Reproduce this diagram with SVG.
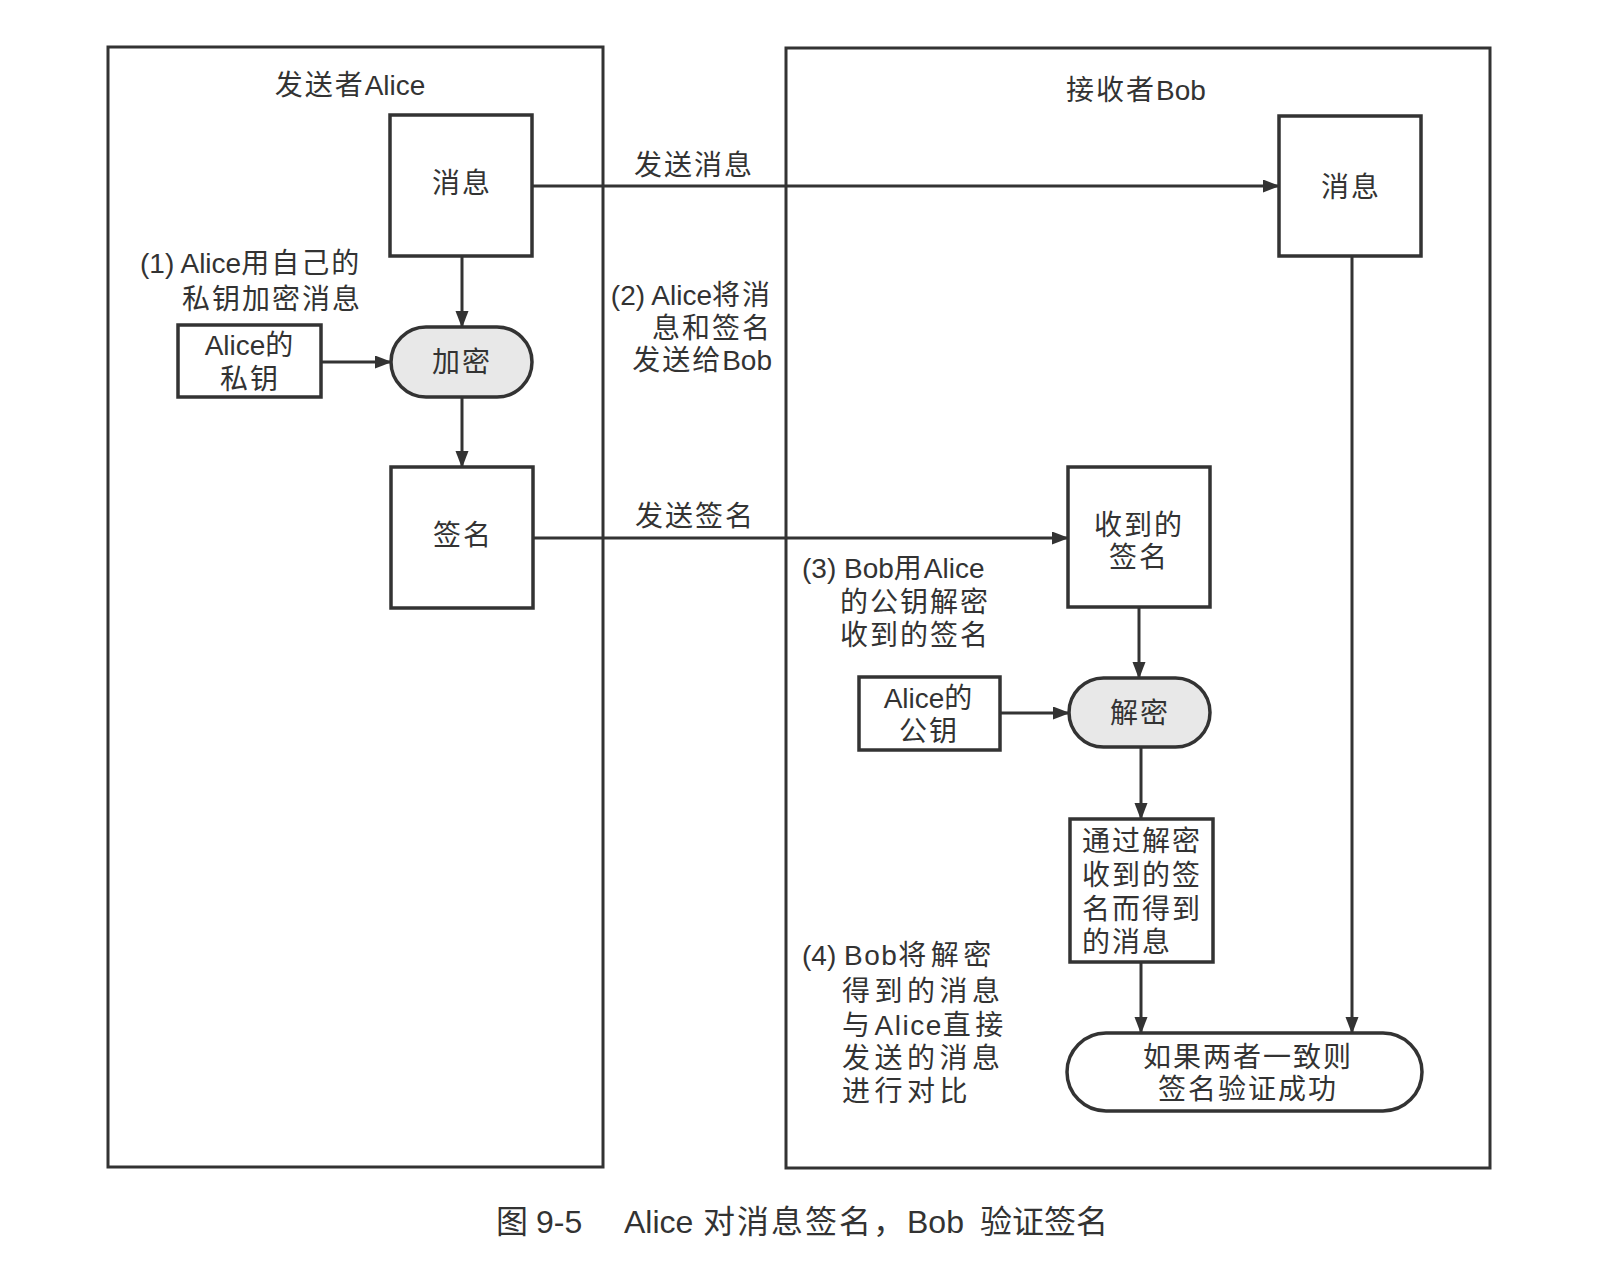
<svg xmlns="http://www.w3.org/2000/svg" width="1604" height="1278" viewBox="0 0 1604 1278">
<defs>
<marker id="arr" markerUnits="userSpaceOnUse" markerWidth="18" markerHeight="14" refX="16" refY="6.5" orient="auto">
<path d="M0,0 L17,6.5 L0,13 z" fill="#333"/>
</marker>
<style>
.frame{fill:none;stroke:#333;stroke-width:3}
.box{fill:#fff;stroke:#333;stroke-width:3.5}
.pill{fill:#e8e8e8;stroke:#333;stroke-width:3.5}
.pillw{fill:#fff;stroke:#333;stroke-width:3.5}
.ln{fill:none;stroke:#333;stroke-width:3}
text{font-family:"Liberation Sans","Noto Sans CJK SC",sans-serif;font-size:28px;fill:#333;dominant-baseline:central;letter-spacing:2px}
.c{text-anchor:middle}
.e{text-anchor:end}
.l{letter-spacing:0}
.w{letter-spacing:4.5px}
.wl{letter-spacing:1.5px}
.cap{font-size:32px;fill:#333;letter-spacing:0}
.cs{letter-spacing:2px}
</style>
</defs>
<rect width="1604" height="1278" fill="#fff"/>

<g id="sender-frame">
<rect class="frame" x="108" y="47" width="495" height="1120"/>
<text class="c" x="350" y="85">发送者<tspan class="l">Alice</tspan></text>
</g>
<g id="receiver-frame">
<rect class="frame" x="786" y="48" width="704" height="1120"/>
<text class="c" x="1136" y="90">接收者<tspan class="l">Bob</tspan></text>
</g>

<g id="connectors">
<line class="ln" x1="532" y1="186" x2="1279" y2="186" marker-end="url(#arr)"/>
<line class="ln" x1="462" y1="256" x2="462" y2="327" marker-end="url(#arr)"/>
<line class="ln" x1="321" y1="362" x2="391" y2="362" marker-end="url(#arr)"/>
<line class="ln" x1="462" y1="397" x2="462" y2="467" marker-end="url(#arr)"/>
<line class="ln" x1="533" y1="538" x2="1068" y2="538" marker-end="url(#arr)"/>
<line class="ln" x1="1139" y1="607" x2="1139" y2="678" marker-end="url(#arr)"/>
<line class="ln" x1="1000" y1="713" x2="1069" y2="713" marker-end="url(#arr)"/>
<line class="ln" x1="1141" y1="747" x2="1141" y2="819" marker-end="url(#arr)"/>
<line class="ln" x1="1141" y1="962" x2="1141" y2="1033" marker-end="url(#arr)"/>
<line class="ln" x1="1352" y1="256" x2="1352" y2="1033" marker-end="url(#arr)"/>
<text class="c" x="694" y="165">发送消息</text>
<text class="c" x="695" y="516">发送签名</text>
</g>

<g id="msg-alice">
<rect class="box" x="390" y="115" width="142" height="141"/>
<text class="c" x="462" y="183">消息</text>
</g>
<g id="note1">
<text x="140" y="263"><tspan class="l">(1) Alice</tspan>用自己的</text>
<text x="182" y="299">私钥加密消息</text>
</g>
<g id="alice-private-key">
<rect class="box" x="178" y="325" width="143" height="72"/>
<text class="c" x="250" y="345"><tspan class="l">Alice</tspan>的</text>
<text class="c" x="250" y="379">私钥</text>
</g>
<g id="encrypt">
<rect class="pill" x="391" y="327" width="141" height="70" rx="35"/>
<text class="c" x="462" y="362">加密</text>
</g>
<g id="signature">
<rect class="box" x="391" y="467" width="142" height="141"/>
<text class="c" x="463" y="535">签名</text>
</g>
<g id="note2">
<text class="e" x="772" y="295"><tspan class="l">(2) Alice</tspan>将消</text>
<text class="e" x="772" y="328">息和签名</text>
<text class="e" x="772" y="360">发送给<tspan class="l">Bob</tspan></text>
</g>

<g id="msg-bob">
<rect class="box" x="1279" y="116" width="142" height="140"/>
<text class="c" x="1351" y="187">消息</text>
</g>
<g id="received-signature">
<rect class="box" x="1068" y="467" width="142" height="140"/>
<text class="c" x="1139" y="525">收到的</text>
<text class="c" x="1139" y="557">签名</text>
</g>
<g id="note3">
<text x="802" y="568"><tspan class="l">(3) Bob</tspan>用<tspan class="l">Alice</tspan></text>
<text x="840" y="602">的公钥解密</text>
<text x="840" y="635">收到的签名</text>
</g>
<g id="alice-public-key">
<rect class="box" x="859" y="677" width="141" height="73"/>
<text class="c" x="929" y="698"><tspan class="l">Alice</tspan>的</text>
<text class="c" x="929" y="731">公钥</text>
</g>
<g id="decrypt">
<rect class="pill" x="1069" y="678" width="141" height="69" rx="34.5"/>
<text class="c" x="1140" y="713">解密</text>
</g>
<g id="decrypted-message">
<rect class="box" x="1070" y="819" width="143" height="143"/>
<text x="1082" y="841">通过解密</text>
<text x="1082" y="875">收到的签</text>
<text x="1082" y="909">名而得到</text>
<text x="1082" y="942">的消息</text>
</g>
<g id="note4">
<text class="w" x="802" y="955"><tspan class="l">(4) </tspan><tspan class="wl">Bob</tspan>将解密</text>
<text class="w" x="842" y="991">得到的消息</text>
<text class="w" x="842" y="1025">与<tspan class="wl">Alice</tspan>直接</text>
<text class="w" x="842" y="1058">发送的消息</text>
<text class="w" x="842" y="1091">进行对比</text>
</g>
<g id="result">
<rect class="pillw" x="1067" y="1033" width="355" height="78" rx="39"/>
<text class="c" x="1248" y="1057">如果两者一致则</text>
<text class="c" x="1248" y="1089">签名验证成功</text>
</g>

<g id="caption">
<text class="cap" y="1222"><tspan x="496">图</tspan><tspan x="536">9-5</tspan><tspan x="624">Alice</tspan><tspan x="703" class="cs">对消息签名，</tspan><tspan x="907">Bob</tspan><tspan x="980">验证签名</tspan></text>
</g>
</svg>
